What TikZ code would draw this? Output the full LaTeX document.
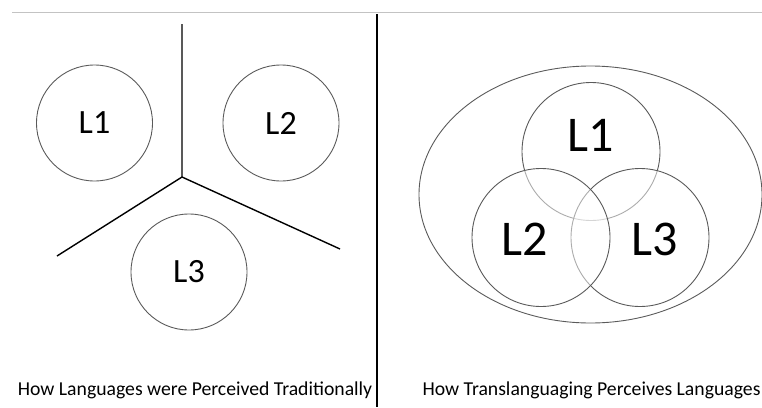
\documentclass[tikz,border=0pt]{standalone}
\usepackage{fontspec}
\setmainfont{Carlito}
\usepackage{tikz}
\usetikzlibrary{positioning,calc,shapes.geometric}
\definecolor{ringgray}{RGB}{90,90,90}
\definecolor{rulegray}{RGB}{195,195,195}

\begin{document}
\begin{tikzpicture}[
    x=1pt, y=-1pt,
    lang/.style={circle, draw=ringgray, line width=0.9pt, inner sep=0pt, minimum size=116pt,
                 font=\fontsize{34}{40}\selectfont},
    venn/.style={circle, draw=ringgray, line width=0.9pt, inner sep=0pt, minimum size=138pt,
                 fill=white, fill opacity=0.5},
    vlbl/.style={font=\fontsize{50}{56}\selectfont, inner sep=0pt},
    split/.style={line width=1.4pt, black},
    captxt/.style={font=\fontsize{19.7}{23}\selectfont, anchor=base, inner sep=0pt}
]
    \useasboundingbox (0,0) rectangle (762,407);

    % page rule and divider
    \coordinate (ruleL) at (12,12);
    \coordinate (ruleR) at (762,12);
    \draw[rulegray, line width=1pt] (ruleL) -- (ruleR);
    \coordinate (divT) at (377,14);
    \coordinate (divB) at (377,407);
    \draw[split] (divT) -- (divB);

    % traditional view
    \node[lang] (tradA) at (94.5,123) {L1};
    \node[lang] (tradB) at (281,123) {L2};
    \node[lang] (tradC) at (189,272) {L3};

    \coordinate (hub) at (182,177);
    \coordinate (hubN) at (182,24);
    \coordinate (hubW) at (57,256);
    \coordinate (hubE) at (340,249);
    \draw[split] (hubN) -- (hub) -- (hubW);
    \draw[split] (hub) -- (hubE);

    % translanguaging view
    \node[draw=ringgray, line width=0.9pt, ellipse, minimum width=343pt, minimum height=257pt,
          inner sep=0pt] (whole) at (590.5,194.5) {};
    \node[venn] (vennA) at (591,151.5) {};
    \node[venn] (vennC) at (640,237.5) {};
    \node[venn] (vennB) at (541,237.5) {};
    \node[vlbl, yshift=16pt] at (vennA.center) {L1};
    \node[vlbl, xshift=-16pt, yshift=-2pt] at (vennB.center) {L2};
    \node[vlbl, xshift=15pt, yshift=-2pt] at (vennC.center) {L3};

    % captions
    \node[captxt] (capL) at (195,395) {How Languages were Perceived Traditionally};
    \node[captxt] (capR) at (591.5,395) {How Translanguaging Perceives Languages};
\end{tikzpicture}
\end{document}
